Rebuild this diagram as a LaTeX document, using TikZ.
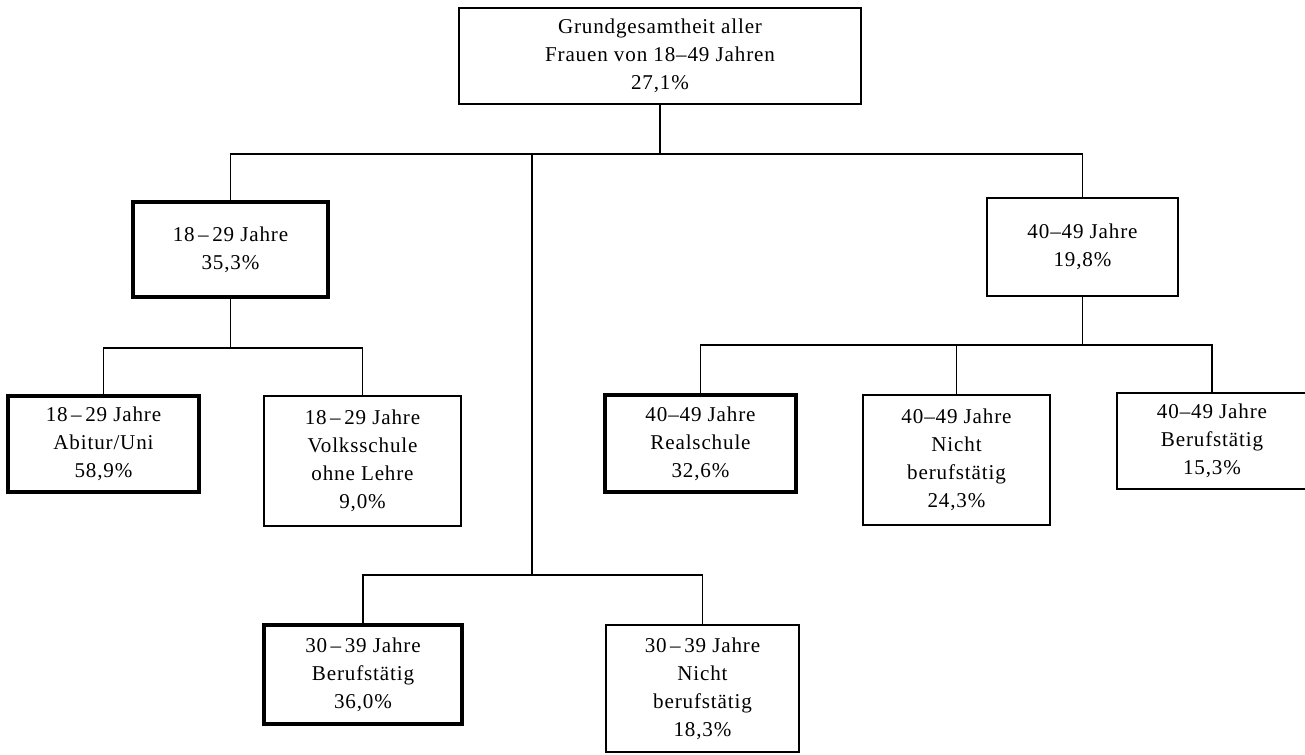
\documentclass[tikz,border=0pt]{standalone}
\usepackage{fontspec}
\setmainfont[LetterSpace=4]{Liberation Serif}
\tikzset{
  box/.style={draw, line width=0.9pt, align=center, inner sep=0pt, font=\fontsize{12}{15.9}\selectfont},
  hbox/.style={box, line width=2.4pt},
  line/.style={draw, line width=0.9pt}
}
\begin{document}
\begin{tikzpicture}[x=0.02cm,y=-0.02cm]
\useasboundingbox (0,0) rectangle (1305,754);
\node[box, minimum width=8.04cm, minimum height=1.92cm] (0) at (660,56) {Grundgesamtheit aller\\Frauen von 18--49 Jahren\\27,1\%};
\node[hbox, minimum width=3.9cm, minimum height=1.9cm] (1) at (230.5,249.5) {18\,--\,29 Jahre\\35,3\%};
\node[box, minimum width=3.82cm, minimum height=1.96cm] (2) at (1082.5,247) {40--49 Jahre\\19,8\%};
\node[hbox, minimum width=3.82cm, minimum height=1.92cm] (3) at (103.5,444) {18\,--\,29 Jahre\\Abitur/Uni\\58,9\%};
\node[box, minimum width=3.94cm, minimum height=2.6cm] (4) at (362.5,461) {18\,--\,29 Jahre\\Volksschule\\ohne Lehre\\9,0\%};
\node[hbox, minimum width=3.82cm, minimum height=1.94cm] (5) at (700.5,443.5) {40--49 Jahre\\Realschule\\32,6\%};
\node[box, minimum width=3.74cm, minimum height=2.6cm] (6) at (956.5,460) {40--49 Jahre\\Nicht\\berufstätig\\24,3\%};
\node[box, minimum width=3.8cm, minimum height=1.92cm] (7) at (1212,441) {40--49 Jahre\\Berufstätig\\15,3\%};
\node[hbox, minimum width=3.96cm, minimum height=1.98cm] (8) at (363,674.5) {30\,--\,39 Jahre\\Berufstätig\\36,0\%};
\node[box, minimum width=3.86cm, minimum height=2.54cm] (9) at (702.5,688.5) {30\,--\,39 Jahre\\Nicht\\berufstätig\\18,3\%};

\coordinate (b1) at (532,154);
\coordinate (b2) at (230.5,348);
\coordinate (b3) at (532,575);
\coordinate (b4) at (1082.5,345);

\path[line] (0.south) -- (0.south |- b1);
\path[line] (1.north) |- (b1) -| (2.north);
\path[line] (b1) -- (b3);
\path[line] (1.south) -- (b2);
\path[line] (3.north) |- (b2) -| (4.north);
\path[line] (2.south) -- (b4);
\path[line] (5.north) |- (b4) -| (7.north);
\path[line] (6.north) -- (6.north |- b4);
\path[line] (8.north) |- (b3) -| (9.north);
\end{tikzpicture}
\end{document}
